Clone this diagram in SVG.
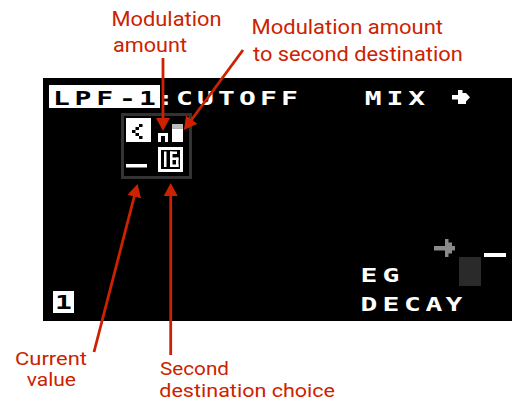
<svg xmlns="http://www.w3.org/2000/svg" width="512" height="401" viewBox="0 0 512 401">
  <style>
    .px { font-family: "DejaVu Sans Mono", "Liberation Mono", monospace; font-weight: bold; font-size: 20px; text-anchor: middle; }
    .w { fill: #ffffff; }
    .k { fill: #000000; }
    .lbl { font-family: Roboto, "Open Sans", "Liberation Sans", sans-serif; font-size: 19.5px; fill: #cc2200; }
    .sm { font-size: 19px; }
    .arr { stroke: #cc2200; stroke-width: 2.8; fill: none; marker-end: url(#head); }
  </style>
  <defs>
    <marker id="head" viewBox="0 0 13 14" refX="3" refY="7" markerWidth="13" markerHeight="14" markerUnits="userSpaceOnUse" orient="auto">
      <path d="M0,0 L13,7 L0,14 z" fill="#cc2200"/>
    </marker>
  </defs>
  <rect width="512" height="401" fill="#ffffff"/>

  <g id="screen">
    <rect x="43" y="78" width="469" height="243" fill="#000000"/>
  </g>

  <g id="header">
    <rect x="49" y="85" width="111" height="23" class="w"/>
    <text class="px k" transform="scale(1.4,1)" x="43.93 59.29 74.79 91.07 105.36" y="105">LPF-1</text>
    <text class="px w" transform="scale(1.4,1)" x="118.21" y="105">:</text>
    <text class="px w" transform="scale(1.4,1)" x="131.79 146.79 161.79 176.79 191.79 206.79" y="105">CUTOFF</text>
    <text class="px w" transform="scale(1.4,1)" x="266.64 282.14 297.64" y="105">MIX</text>
    <path class="w" d="M452,95 H458 V90 H462.5 V93 H466 L470,97.3 L466,101.5 V104 H462.5 V104 H458 V99.5 H452 z"/>
  </g>

  <g id="mod-box">
    <rect x="122.5" y="114.5" width="68" height="63" fill="none" stroke="#333333" stroke-width="3"/>
    <rect x="126" y="118" width="25" height="24" class="w"/>
    <rect x="139" y="124" width="3.5" height="3" class="k"/>
    <rect x="135.5" y="127" width="3.5" height="3" class="k"/>
    <rect x="132" y="130" width="3.5" height="3" class="k"/>
    <rect x="135.5" y="133" width="3.5" height="3" class="k"/>
    <rect x="139" y="136" width="3.5" height="3" class="k"/>
    <path class="w" d="M158,133 H168 V142 H165 V136 H161 V142 H158 z"/>
    <rect x="172" y="124" width="11" height="4.5" fill="#bbbbbb"/>
    <rect x="172" y="128.5" width="11" height="13.5" class="w"/>
    <rect x="158" y="147" width="25" height="25" class="w"/>
    <rect x="161" y="150" width="19" height="19" class="k"/>
    <rect x="164" y="151.5" width="2.5" height="15.5" class="w"/>
    <rect x="170" y="151.5" width="2.5" height="15.5" class="w"/>
    <rect x="170" y="151.5" width="7" height="2.5" class="w"/>
    <rect x="170" y="157.5" width="8.5" height="2.5" class="w"/>
    <rect x="176" y="157.5" width="2.5" height="9.5" class="w"/>
    <rect x="170" y="164.5" width="8.5" height="2.5" class="w"/>
    <rect x="126" y="164" width="21" height="3.5" class="w"/>
  </g>

  <g id="eg-decay">
    <path fill="#8a8a8a" d="M434,246 H445 V239 H448.5 V242.5 H452 V246 H455 V250.5 H452 V253.5 H448.5 V257 H445 V250.5 H434 z"/>
    <rect x="484" y="253" width="22" height="4" class="w"/>
    <rect x="459" y="257" width="22" height="29" fill="#2a2a2a"/>
    <text class="px w" transform="scale(1.4,1)" x="263.57 279.29" y="282">EG</text>
    <text class="px w" transform="scale(1.4,1)" x="263.57 279.29 294.64 310 324.29" y="311">DECAY</text>
  </g>

  <g id="slot-1">
    <rect x="53" y="291" width="21" height="22" class="w"/>
    <text class="px k" transform="scale(1.4,1)" x="45.36" y="309">1</text>
  </g>

  <g id="connectors">
    <line class="arr" x1="163" y1="58" x2="163" y2="121"/>
    <line class="arr" x1="243" y1="50" x2="189.9" y2="122"/>
    <line class="arr" x1="94" y1="352" x2="135" y2="193.7"/>
    <line class="arr" x1="170.7" y1="355" x2="170.7" y2="193"/>
  </g>

  <g id="label-mod-amount">
    <text class="lbl"><tspan x="111.5" y="26" textLength="110" lengthAdjust="spacingAndGlyphs">Modulation</tspan><tspan x="113" y="52" textLength="74" lengthAdjust="spacingAndGlyphs">amount</tspan></text>
  </g>
  <g id="label-mod-amount-2">
    <text class="lbl"><tspan x="251.5" y="34" textLength="191.5" lengthAdjust="spacingAndGlyphs">Modulation amount</tspan><tspan x="253" y="60.5" textLength="209.7" lengthAdjust="spacingAndGlyphs">to second destination</tspan></text>
  </g>
  <g id="label-current">
    <text class="lbl sm"><tspan x="15" y="364.5" textLength="72" lengthAdjust="spacingAndGlyphs">Current</tspan><tspan x="26.7" y="386" textLength="49.3" lengthAdjust="spacingAndGlyphs">value</tspan></text>
  </g>
  <g id="label-second">
    <text class="lbl sm"><tspan x="160" y="375" textLength="69" lengthAdjust="spacingAndGlyphs">Second</tspan><tspan x="159.3" y="396.5" textLength="175.7" lengthAdjust="spacingAndGlyphs">destination choice</tspan></text>
  </g>
</svg>
